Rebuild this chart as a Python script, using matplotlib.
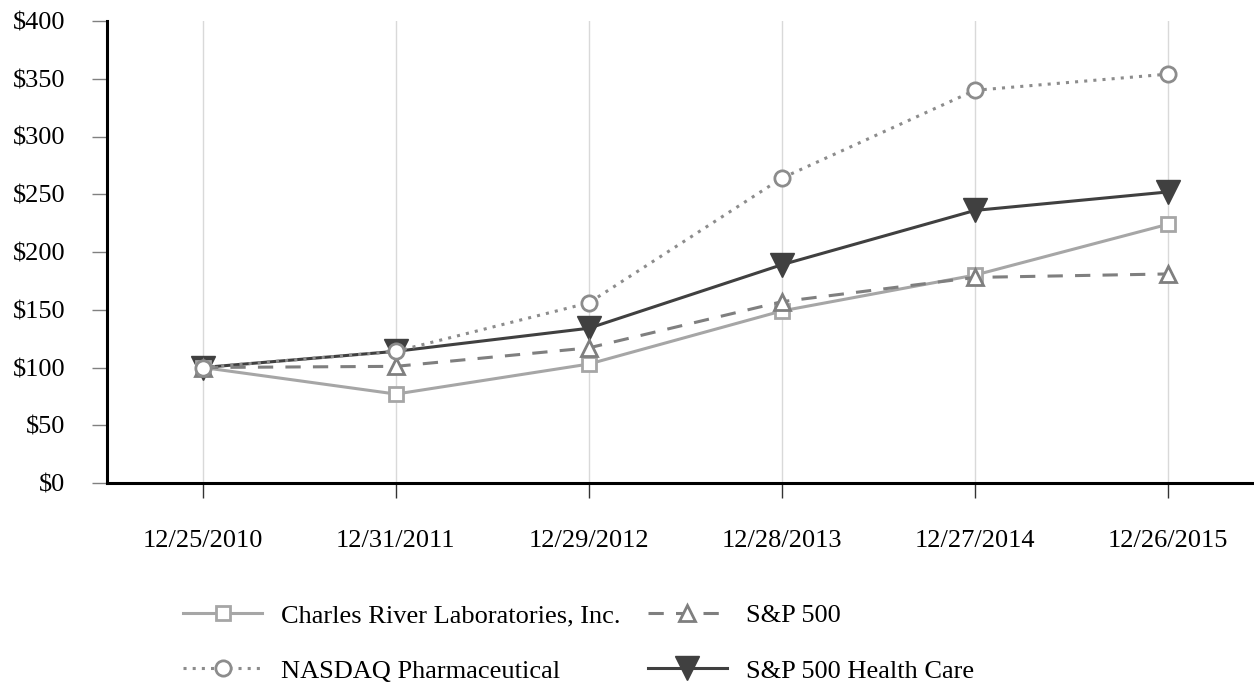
import matplotlib
matplotlib.use("Agg")
import matplotlib.pyplot as plt
from matplotlib.ticker import FuncFormatter

dates = ["12/25/2010", "12/31/2011", "12/29/2012", "12/28/2013", "12/27/2014", "12/26/2015"]
charles_river = [100, 77, 103, 149, 180, 224]
sp500 = [100, 101, 117, 157, 178, 181]
nasdaq_pharma = [100, 114, 156, 264, 340, 354]
sp500_health = [100, 114, 134, 189, 236, 252]

plt.rcParams['font.family'] = ['Liberation Serif', 'DejaVu Serif']
FS = 19

fig = plt.figure(figsize=(12.54, 6.96), dpi=100)
W, H = 1254, 696
ax = fig.add_axes([107 / W, 1 - 483 / H, (1254 - 107) / W, (483 - 21) / H])

x = list(range(len(dates)))

l_cr, = ax.plot(x, charles_river, color='#a6a6a6', lw=2.2, marker='s', ms=10,
                mfc='white', mec='#a6a6a6', mew=2, zorder=3,
                label='Charles River Laboratories, Inc.')
l_sp, = ax.plot(x, sp500, color='#7f7f7f', lw=2.2, ls=(0, (5, 4)), marker='^', ms=11,
                mfc='white', mec='#7f7f7f', mew=2, zorder=3, label='S&P 500')
l_nq, = ax.plot(x, nasdaq_pharma, color='#8c8c8c', lw=2.2, ls=(0, (1, 2)), marker='o', ms=11,
                mfc='white', mec='#8c8c8c', mew=2, zorder=4, label='NASDAQ Pharmaceutical')
l_hc, = ax.plot(x, sp500_health, color='#404040', lw=2.2, marker='v', ms=17,
                mfc='#404040', mec='#404040', zorder=2, label='S&P 500 Health Care')

ax.set_xlim(-0.497, 5.446)
ax.set_ylim(0, 400)
ax.set_yticks(range(0, 401, 50))
ax.yaxis.set_major_formatter(FuncFormatter(lambda v, p: f"${int(v)}"))
ax.set_xticks(x)
ax.set_xticklabels(dates)

ax.grid(axis='x', color='#d9d9d9', lw=1)
ax.grid(axis='y', visible=False)
ax.set_axisbelow(True)

for s in ['top', 'right']:
    ax.spines[s].set_visible(False)
for s in ['left', 'bottom']:
    ax.spines[s].set_linewidth(2.2)
    ax.spines[s].set_color('black')

ax.tick_params(axis='y', length=11, width=1, color='#808080', pad=19, labelsize=FS)
ax.tick_params(axis='x', length=11, width=1, color='#333333', pad=23, labelsize=FS)

handles = [l_cr, l_nq, l_sp, l_hc]
leg = fig.legend(handles, [h.get_label() for h in handles], ncol=2, frameon=False,
                 loc='upper left', bbox_to_anchor=(183 / W, 1 - 604 / H),
                 fontsize=FS, handlelength=3.0, handletextpad=0.72,
                 columnspacing=1.03, labelspacing=1.2, borderpad=0, borderaxespad=0)

fig.savefig("out.png", dpi=100)
